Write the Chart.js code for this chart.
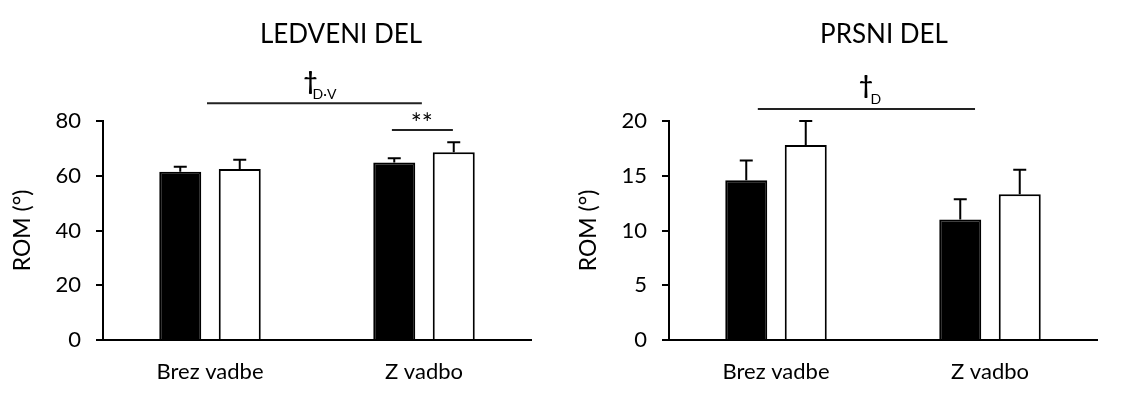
<!DOCTYPE html>
<html>
<head>
<meta charset="utf-8">
<script src="https://cdn.jsdelivr.net/npm/chart.js@4"></script>
<style>
  body { margin: 0; background: #fff; }
  .wrap { display: flex; width: 1122px; height: 399px; }
  canvas { display: block; }
</style>
</head>
<body>
<div class="wrap">
  <canvas id="ledveniChart" width="561" height="399"></canvas>
  <canvas id="prsniChart" width="561" height="399"></canvas>
</div>
<script>
// categories
const categories = ['Brez vadbe', 'Z vadbo'];

// LEDVENI DEL (black = first group, white = second group)
const ledveniBlack = [61.5, 64.8];
const ledveniBlackErr = [1.8, 1.6];
const ledveniWhite = [62.5, 68.6];
const ledveniWhiteErr = [3.3, 3.6];
const ledveniTicks = [0, 20, 40, 60, 80];

// PRSNI DEL
const prsniBlack = [14.6, 11.0];
const prsniBlackErr = [1.8, 1.85];
const prsniWhite = [17.8, 13.3];
const prsniWhiteErr = [2.2, 2.25];
const prsniTicks = [0, 5, 10, 15, 20];

const FONT = 'Lato, "Open Sans", sans-serif';

// error bars (upper only) + significance marks + titles
const extrasPlugin = {
    id: 'extras',
    afterDatasetsDraw(chart, args, opts) {
        const ctx = chart.ctx;
        const y = chart.scales.y;
        const x = chart.scales.x;
        ctx.save();
        ctx.strokeStyle = '#000';
        ctx.lineWidth = 2;
        chart.data.datasets.forEach((ds, i) => {
            const meta = chart.getDatasetMeta(i);
            meta.data.forEach((bar, j) => {
                const top = y.getPixelForValue(ds.data[j] + ds.errors[j]);
                ctx.beginPath();
                ctx.moveTo(bar.x, bar.y);
                ctx.lineTo(bar.x, top);
                ctx.moveTo(bar.x - 6.5, top);
                ctx.lineTo(bar.x + 6.5, top);
                ctx.stroke();
            });
        });

        // significance lines
        ctx.lineWidth = 2;
        ctx.strokeStyle = '#222';
        opts.lines.forEach(l => {
            const py = y.getPixelForValue(l.value);
            ctx.beginPath();
            ctx.moveTo(x.getPixelForValue(l.from), py);
            ctx.lineTo(x.getPixelForValue(l.to), py);
            ctx.stroke();
        });

        ctx.fillStyle = '#000';
        ctx.textAlign = 'center';
        ctx.textBaseline = 'middle';
        opts.texts.forEach(t => {
            ctx.font = (t.bold ? 'bold ' : '') + t.size + 'px ' + FONT;
            ctx.fillText(t.text, x.getPixelForValue(t.at), y.getPixelForValue(t.value));
        });

        // chart title
        ctx.font = '26px ' + FONT;
        ctx.fillText(opts.title, opts.titleX, 35);
        ctx.restore();
    }
};

function makeChart(id, black, blackErr, white, whiteErr, ticks, yWidth, titlePad, extras) {
    const ctx = document.getElementById(id);
    const data = {
        labels: categories,
        datasets: [{
            data: black,
            errors: blackErr,
            backgroundColor: '#000',
            borderColor: '#000',
            borderWidth: 2,
            categoryPercentage: 0.556,
            barPercentage: 0.706
        }, {
            data: white,
            errors: whiteErr,
            backgroundColor: '#fff',
            borderColor: '#000',
            borderWidth: 2,
            categoryPercentage: 0.556,
            barPercentage: 0.706
        }]
    };
    const config = {
        type: 'bar',
        data: data,
        plugins: [extrasPlugin],
        options: {
            responsive: false,
            animation: false,
            layout: { padding: { top: 121, right: 561 - 103 - 428 - (yWidth - 103), left: 0, bottom: 0 } },
            plugins: {
                legend: { display: false },
                tooltip: { enabled: false },
                extras: extras
            },
            scales: {
                x: {
                    grid: { display: false, drawTicks: false },
                    border: { display: true, color: '#000', width: 2 },
                    ticks: { color: '#000', font: { family: FONT, size: 22 }, padding: 19 },
                    afterFit: (s) => { s.height = 59; }
                },
                y: {
                    min: ticks[0],
                    max: ticks[ticks.length - 1],
                    afterBuildTicks: (s) => { s.ticks = ticks.map(v => ({ value: v })); },
                    grid: { drawOnChartArea: false, drawTicks: true, tickLength: 7, color: '#000', lineWidth: 2 },
                    border: { display: true, color: '#000', width: 2 },
                    ticks: { color: '#000', font: { family: FONT, size: 22 }, padding: 15 },
                    title: {
                        display: true,
                        text: 'ROM (°)',
                        color: '#000',
                        font: { family: FONT, size: 23 },
                        padding: { top: titlePad, bottom: 0 }
                    },
                    afterFit: (s) => { s.width = yWidth; }
                }
            }
        }
    };
    return new Chart(ctx, config);
}

makeChart('ledveniChart', ledveniBlack, ledveniBlackErr, ledveniWhite, ledveniWhiteErr, ledveniTicks, 103, 9, {
    title: 'LEDVENI DEL',
    titleX: 341,
    lines: [
        { from: -0.014, to: 0.99, value: 86.5 },
        { from: 0.85, to: 1.135, value: 76.7 }
    ],
    texts: [
        { text: '†', size: 24, bold: true, at: 0.47, value: 94.3 },
        { text: 'D·V', size: 14, at: 0.535, value: 89.8 },
        { text: '**', size: 26, at: 0.99, value: 78.8 }
    ]
});

makeChart('prsniChart', prsniBlack, prsniBlackErr, prsniWhite, prsniWhiteErr, prsniTicks, 108, 14, {
    title: 'PRSNI DEL',
    titleX: 323,
    lines: [
        { from: -0.085, to: 0.93, value: 21.1 },
    ],
    texts: [
        { text: '†', size: 24, bold: true, at: 0.42, value: 23.2 },
        { text: 'D', size: 14, at: 0.467, value: 21.95 }
    ]
});
</script>
</body>
</html>
